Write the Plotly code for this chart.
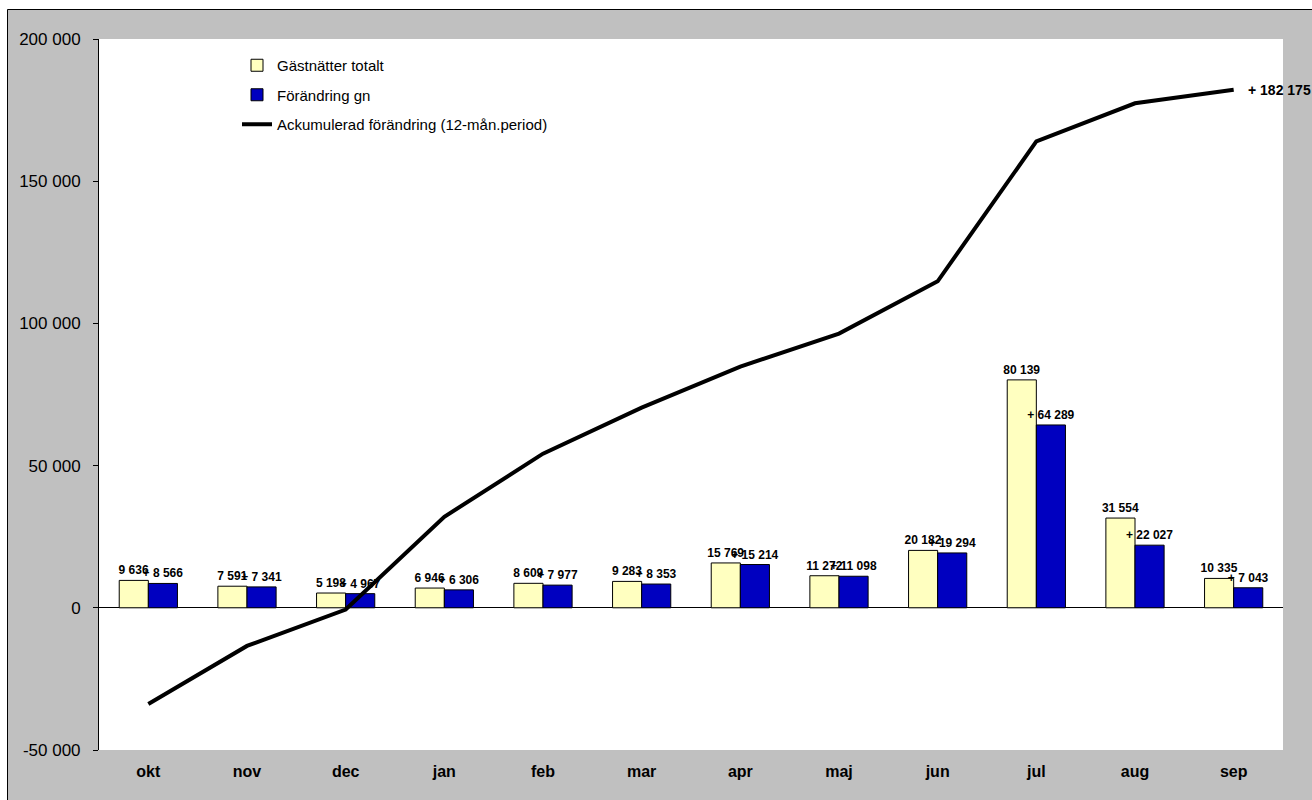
import plotly.graph_objects as go

months = ["okt", "nov", "dec", "jan", "feb", "mar", "apr", "maj", "jun", "jul", "aug", "sep"]
gastnatter_totalt = [9636, 7591, 5198, 6946, 8609, 9283, 15769, 11272, 20182, 80139, 31554, 10335]
forandring_gn = [8566, 7341, 4967, 6306, 7977, 8353, 15214, 11098, 19294, 64289, 22027, 7043]
ackumulerad = [-33800, -13400, -600, 32000, 54200, 70400, 84800, 96400, 114800, 164000, 177400, 182175]

y_tickvals = [-50000, 0, 50000, 100000, 150000, 200000]
y_ticktext = ["-50 000", "0", "50 000", "100 000", "150 000", "200 000"]
y_range = [-50000, 200000]

W, H = 1312, 800
L, R, T, B = 99, 1283, 39, 750
pw, ph = R - L, B - T


def fmt(v):
    return f"{v:,}".replace(",", " ")


def px_x(p):
    return (p - L) / pw


def px_y(p):
    return (B - p) / ph


FONT = "Liberation Sans, Arial, sans-serif"

fig = go.Figure()

fig.add_trace(go.Bar(
    x=months, y=gastnatter_totalt, name="Gästnätter totalt",
    marker=dict(color="#FFFFC0", line=dict(color="black", width=1)),
    text=[fmt(v) for v in gastnatter_totalt], textposition="outside",
    textfont=dict(family=FONT, size=12, color="black", weight="bold"),
    constraintext="none", cliponaxis=False, legendgroup="a",
))
fig.add_trace(go.Bar(
    x=months, y=forandring_gn, name="Förändring gn",
    marker=dict(color="#0000C0", line=dict(color="black", width=1)),
    text=["+ " + fmt(v) for v in forandring_gn], textposition="outside",
    textfont=dict(family=FONT, size=12, color="black", weight="bold"),
    constraintext="none", cliponaxis=False, legendgroup="b",
))
fig.add_trace(go.Scatter(
    x=months, y=ackumulerad, name="Ackumulerad förändring (12-mån.period)",
    mode="lines", line=dict(color="black", width=4),
    cliponaxis=False, legendgroup="c",
))

fig.add_annotation(
    x=months[-1], y=ackumulerad[-1], text="+ " + fmt(ackumulerad[-1]),
    showarrow=False, xanchor="left", yanchor="middle", xshift=12,
    font=dict(family=FONT, size=14, color="black", weight="bold"),
)

zero_pos = (0 - y_range[0]) / (y_range[1] - y_range[0])

fig.update_layout(
    width=W, height=H,
    margin=dict(l=L, r=W - R, t=T, b=H - B, pad=0, autoexpand=False),
    paper_bgcolor="white", plot_bgcolor="white",
    barmode="group", bargap=0.41, bargroupgap=0,
    font=dict(family=FONT, color="black"),
    showlegend=True,
    legend=dict(
        x=px_x(237), y=px_y(49), xanchor="left", yanchor="top",
        bgcolor="rgba(0,0,0,0)", font=dict(size=15, family=FONT),
        tracegroupgap=7, traceorder="grouped",
    ),
    xaxis=dict(
        type="category", range=[-0.5, len(months) - 0.5],
        showgrid=False, zeroline=False, showline=False,
        ticks="", tickfont=dict(size=16, family=FONT, weight="bold"),
        ticklabelstandoff=10,
    ),
    xaxis2=dict(
        overlaying="x", anchor="free", position=zero_pos, side="bottom",
        type="linear", range=[-0.5, len(months) - 0.5],
        tickvals=[i + 0.5 for i in range(len(months))],
        showticklabels=False, ticks="outside", ticklen=6, tickcolor="black",
        showgrid=False, zeroline=False, showline=False,
    ),
    yaxis=dict(
        range=y_range, tickvals=y_tickvals, ticktext=y_ticktext,
        showgrid=False, zeroline=True, zerolinecolor="black", zerolinewidth=1,
        showline=True, linecolor="black", linewidth=1,
        ticks="outside", ticklen=5, tickcolor="black",
        tickfont=dict(size=17, family=FONT), ticklabelstandoff=9,
    ),
    shapes=[
        dict(
            type="rect", xref="paper", yref="paper", layer="below",
            x0=px_x(7.5), x1=px_x(1340), y0=px_y(830), y1=px_y(9.5),
            fillcolor="#C0C0C0", line=dict(color="black", width=1),
        ),
        dict(
            type="rect", xref="paper", yref="paper", layer="below",
            x0=0, x1=1, y0=0, y1=1,
            fillcolor="white", line=dict(width=0),
        ),
    ],
)

fig.write_html(
    "out.html",
    config={"displayModeBar": False},
    post_script=(
        "document.body.style.margin='0';"
        "document.body.style.overflow='hidden';"
        "document.documentElement.style.overflow='hidden';"
    ),
)
